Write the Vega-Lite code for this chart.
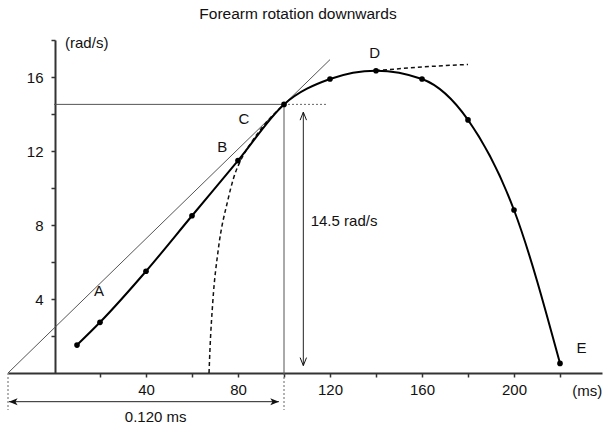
{
  "$schema": "https://vega.github.io/schema/vega-lite/v6.json",
  "width": 594,
  "height": 333,
  "autosize": {"type": "none"},
  "padding": {"left": 8, "top": 40, "right": 2, "bottom": 55},
  "title": {"text": "Forearm rotation downwards", "font": "Liberation Sans", "fontSize": 15.5, "fontWeight": "normal", "color": "#111", "dx": -7, "offset": 13},
  "config": {
    "view": {"stroke": null},
    "font": "Liberation Sans",
    "axis": {"grid": false, "title": null, "domainColor": "#333", "domainWidth": 2, "tickColor": "#333", "tickWidth": 1.5, "tickSize": 4, "labelFont": "Liberation Sans", "labelFontSize": 15, "labelColor": "#111"}
  },
  "datasets": {
    "speed": [
      {"t": 10, "v": 1.51}, {"t": 20, "v": 2.74}, {"t": 40, "v": 5.5}, {"t": 60, "v": 8.5},
      {"t": 80, "v": 11.48}, {"t": 100, "v": 14.52}, {"t": 120, "v": 15.89}, {"t": 140, "v": 16.34},
      {"t": 160, "v": 15.89}, {"t": 180, "v": 13.68}, {"t": 200, "v": 8.81}, {"t": 220, "v": 0.52}
    ],
    "dashed": [
      {"c": "rise", "t": 67.4, "v": 0}, {"c": "rise", "t": 67.8, "v": 1.24}, {"c": "rise", "t": 69.1, "v": 3.95},
      {"c": "rise", "t": 71.4, "v": 6.65}, {"c": "rise", "t": 75.6, "v": 9.35}, {"c": "rise", "t": 78, "v": 10.5},
      {"c": "rise", "t": 82, "v": 11.7}, {"c": "rise", "t": 86, "v": 12.5}, {"c": "rise", "t": 92, "v": 13.5},
      {"c": "rise", "t": 100, "v": 14.52},
      {"c": "plateau", "t": 140, "v": 16.34}, {"c": "plateau", "t": 160, "v": 16.54}, {"c": "plateau", "t": 180, "v": 16.68}
    ],
    "solidRules": [
      {"x": -20, "y": 0, "x2": 120, "y2": 16.94},
      {"x": 0, "y": 14.52, "x2": 100, "y2": 14.52},
      {"x": 100, "y": 0, "x2": 100, "y2": 14.52}
    ],
    "dottedRules": [
      {"x": 100, "y": 14.52, "x2": 119, "y2": 14.52},
      {"x": 100, "y": 0, "x2": 100, "y2": -2},
      {"x": -20, "y": 0, "x2": -20, "y2": -2}
    ],
    "arrowRules": [
      {"x": -19.6, "y": -1.55, "x2": 97.8, "y2": -1.55},
      {"x": 108.4, "y": 0.4, "x2": 108.4, "y2": 14.1}
    ],
    "letters": [
      {"x": 19.6, "y": 4.43, "label": "A"}, {"x": 73.2, "y": 12.23, "label": "B"},
      {"x": 82.6, "y": 13.71, "label": "C"}, {"x": 139.4, "y": 17.28, "label": "D"},
      {"x": 229.3, "y": 1.34, "label": "E"}
    ],
    "notesCenter": [
      {"x": 44.2, "y": -2.36, "label": "0.120 ms"}
    ],
    "notesLeft": [
      {"x": 111.6, "y": 8.23, "label": "14.5 rad/s"},
      {"x": 4.8, "y": 17.86, "label": "(rad/s)"},
      {"x": 225.3, "y": -0.97, "label": "(ms)"}
    ]
  },
  "layer": [
    {
      "data": {"name": "solidRules"},
      "mark": {"type": "rule", "color": "#555", "strokeWidth": 1},
      "encoding": {
        "x": {"field": "x", "type": "quantitative", "scale": {"domain": [-20, 238.26], "nice": false, "zero": false},
              "axis": {"values": [20, 40, 60, 80, 100, 120, 140, 160, 180, 200, 220], "labelExpr": "datum.value % 40 == 0 ? datum.value : ''", "labelPadding": 5}},
        "y": {"field": "y", "type": "quantitative", "scale": {"domain": [0, 18], "nice": false},
              "axis": {"offset": -47, "values": [2, 4, 6, 8, 10, 12, 14, 16, 18], "labelExpr": "datum.value % 4 == 0 ? datum.value : ''", "labelPadding": 8}},
        "x2": {"field": "x2"},
        "y2": {"field": "y2"}
      }
    },
    {
      "data": {"name": "dottedRules"},
      "mark": {"type": "rule", "color": "#666", "strokeWidth": 1, "strokeDash": [2, 2]},
      "encoding": {
        "x": {"field": "x", "type": "quantitative"}, "y": {"field": "y", "type": "quantitative"},
        "x2": {"field": "x2"}, "y2": {"field": "y2"}
      }
    },
    {
      "data": {"name": "arrowRules"},
      "mark": {"type": "rule", "color": "#222", "strokeWidth": 1},
      "encoding": {
        "x": {"field": "x", "type": "quantitative"}, "y": {"field": "y", "type": "quantitative"},
        "x2": {"field": "x2"}, "y2": {"field": "y2"}
      }
    },
    {
      "data": {"name": "arrowRules"},
      "transform": [{"filter": "datum.y == datum.y2"}],
      "mark": {"type": "point", "shape": "M0,0L1,-0.4L0.75,0L1,0.4Z", "size": 300, "filled": true, "color": "#111", "opacity": 1},
      "encoding": {"x": {"field": "x", "type": "quantitative"}, "y": {"field": "y", "type": "quantitative"}}
    },
    {
      "data": {"name": "arrowRules"},
      "transform": [{"filter": "datum.y == datum.y2"}],
      "mark": {"type": "point", "shape": "M0,0L-1,-0.4L-0.75,0L-1,0.4Z", "size": 300, "filled": true, "color": "#111", "opacity": 1},
      "encoding": {"x": {"field": "x2", "type": "quantitative"}, "y": {"field": "y2", "type": "quantitative"}}
    },
    {
      "data": {"name": "arrowRules"},
      "transform": [{"filter": "datum.x == datum.x2"}],
      "mark": {"type": "point", "shape": "M-0.4,-1L0,0L0.4,-1", "size": 256, "filled": false, "color": "#111", "strokeWidth": 1, "opacity": 1},
      "encoding": {"x": {"field": "x", "type": "quantitative"}, "y": {"field": "y", "type": "quantitative"}}
    },
    {
      "data": {"name": "arrowRules"},
      "transform": [{"filter": "datum.x == datum.x2"}],
      "mark": {"type": "point", "shape": "M-0.4,1L0,0L0.4,1", "size": 256, "filled": false, "color": "#111", "strokeWidth": 1, "opacity": 1},
      "encoding": {"x": {"field": "x2", "type": "quantitative"}, "y": {"field": "y2", "type": "quantitative"}}
    },
    {
      "data": {"name": "dashed"},
      "mark": {"type": "line", "color": "#111", "strokeWidth": 1.5, "strokeDash": [4, 3], "interpolate": "monotone"},
      "encoding": {
        "x": {"field": "t", "type": "quantitative"}, "y": {"field": "v", "type": "quantitative"},
        "detail": {"field": "c"}
      }
    },
    {
      "data": {"name": "speed"},
      "mark": {"type": "line", "color": "#000", "strokeWidth": 2, "interpolate": "monotone"},
      "encoding": {"x": {"field": "t", "type": "quantitative"}, "y": {"field": "v", "type": "quantitative"}}
    },
    {
      "data": {"name": "speed"},
      "mark": {"type": "point", "filled": true, "color": "#000", "size": 32, "opacity": 1},
      "encoding": {"x": {"field": "t", "type": "quantitative"}, "y": {"field": "v", "type": "quantitative"}}
    },
    {
      "data": {"name": "letters"},
      "mark": {"type": "text", "fontSize": 15, "font": "Liberation Sans", "color": "#111", "align": "center", "baseline": "middle"},
      "encoding": {"x": {"field": "x", "type": "quantitative"}, "y": {"field": "y", "type": "quantitative"}, "text": {"field": "label"}}
    },
    {
      "data": {"name": "notesCenter"},
      "mark": {"type": "text", "fontSize": 15, "font": "Liberation Sans", "color": "#111", "align": "center", "baseline": "middle"},
      "encoding": {"x": {"field": "x", "type": "quantitative"}, "y": {"field": "y", "type": "quantitative"}, "text": {"field": "label"}}
    },
    {
      "data": {"name": "notesLeft"},
      "mark": {"type": "text", "fontSize": 15, "font": "Liberation Sans", "color": "#111", "align": "left", "baseline": "middle"},
      "encoding": {"x": {"field": "x", "type": "quantitative"}, "y": {"field": "y", "type": "quantitative"}, "text": {"field": "label"}}
    }
  ]
}
